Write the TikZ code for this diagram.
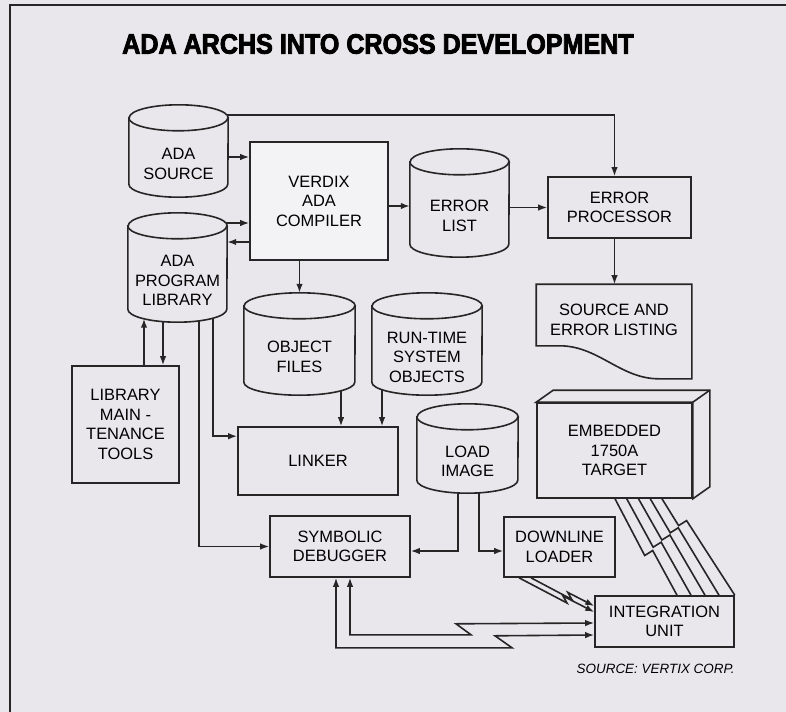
\documentclass[tikz,border=0pt]{standalone}
\usepackage{fontspec}
\setmainfont{Liberation Sans}
\newfontfamily\headfont{Liberation Sans}[UprightFont=* Bold,FakeBold=3,FakeStretch=0.9]
\usepackage{xcolor}
\definecolor{cPaper}{HTML}{E9E7EB}
\definecolor{cPaperLight}{HTML}{F3F2F4}
\definecolor{cInk}{HTML}{262626}
\usepackage{tikz}
\usetikzlibrary{positioning,arrows.meta,calc}
\pgfdeclarelayer{paper}
\pgfdeclarelayer{wires}
\pgfdeclarelayer{drums}
\pgfsetlayers{paper,wires,drums,main}
\tikzset{
  node-box/.style={draw=cInk,line width=1.6bp,fill=cPaper,align=center,
    inner sep=2bp,font=\fontsize{16.5}{19.5}\selectfont},
  node-drum/.style={rectangle,align=center,inner sep=0pt,
    font=\fontsize{16.5}{19.5}\selectfont},
  drum-line/.style={draw=cInk,line width=1.6bp,fill=cPaper},
  arrow/.style={-{Latex[length=9bp,width=6.5bp]},line width=1.6bp,draw=cInk},
  arrow-both/.style={{Latex[length=9bp,width=6.5bp]}-{Latex[length=9bp,width=6.5bp]},
    line width=1.6bp,draw=cInk},
  wire/.style={line width=1.6bp,draw=cInk},
}

\begin{document}
\begin{tikzpicture}[x=1bp,y=-1bp]
  \useasboundingbox (0,0) rectangle (786,712);
  \begin{pgfonlayer}{paper}
    \fill[cPaper] (0,0) rectangle (786,712);
    \draw[wire] (786,5) -- (10,5) -- (10,712);
  \end{pgfonlayer}

  \node[font=\headfont\fontsize{28}{32}\selectfont] (title) at (378,44) {ADA ARCHS INTO CROSS DEVELOPMENT};

  % stores (node = body below the top lid)
  \node[node-drum,minimum width=99bp,minimum height=66bp]  (src)  at (178.5,164)   {ADA\\SOURCE};
  \node[node-drum,minimum width=99bp,minimum height=83bp]  (lib)  at (177.5,280.5) {ADA\\PROGRAM\\LIBRARY};
  \node[node-drum,minimum width=99bp,minimum height=82bp]  (errl) at (459.5,216)   {ERROR\\LIST};
  \node[node-drum,minimum width=111bp,minimum height=76bp] (obj)  at (299.5,357)   {OBJECT\\FILES};
  \node[node-drum,minimum width=110bp,minimum height=76bp] (rts)  at (427,357)     {RUN-TIME\\SYSTEM\\OBJECTS};
  \node[node-drum,minimum width=101bp,minimum height=63bp] (img)  at (467.5,461.5) {LOAD\\IMAGE};
  \begin{pgfonlayer}{drums}
    \foreach \s/\r in {src/49.5bp,lib/49.5bp,errl/49.5bp,obj/55.5bp,rts/55bp,img/50.5bp}{
      \draw[drum-line] ([yshift=13bp]\s.north west) -- ([yshift=13bp]\s.south west)
        arc[start angle=180,end angle=360,x radius=\r,y radius=13bp]
        -- ([yshift=13bp]\s.north east)
        arc[start angle=0,end angle=180,x radius=\r,y radius=13bp] -- cycle;
      \draw[drum-line,fill=none] ([yshift=13bp]\s.north west)
        arc[start angle=180,end angle=360,x radius=\r,y radius=13bp];
    }
  \end{pgfonlayer}

  % tools and units
  \node[node-box,fill=cPaperLight,minimum width=138bp,minimum height=118bp] (cmp)   at (319,201)     {VERDIX\\ADA\\COMPILER};
  \node[node-box,minimum width=143bp,minimum height=61bp]                   (ep)    at (619.5,207.5) {ERROR\\PROCESSOR};
  \node[node-box,minimum width=107bp,minimum height=117bp]                  (tools) at (125.5,424.5) {LIBRARY\\MAIN -\\TENANCE\\TOOLS};
  \node[node-box,minimum width=160bp,minimum height=68bp]                   (lnk)   at (318,461)     {LINKER};
  \node[node-box,minimum width=140bp,minimum height=61bp]                   (dbg)   at (340,546.5)   {SYMBOLIC\\DEBUGGER};
  \node[node-box,minimum width=111bp,minimum height=60bp]                   (dl)    at (559.5,547)   {DOWNLINE\\LOADER};
  \node[node-box,minimum width=139bp,minimum height=51bp]                   (iu)    at (664.5,621.5) {INTEGRATION\\UNIT};
  \node[node-box,minimum width=155bp,minimum height=95bp]                   (tgt)   at (614.5,450.5) {EMBEDDED\\1750A\\TARGET};
  \node[node-box,draw=none,fill=none,minimum width=154bp,minimum height=70bp] (sel) at (614,320)     {SOURCE AND\\ERROR LISTING};

  % printout outline and target depth
  \begin{pgfonlayer}{drums}
    \draw[drum-line] (sel.north west) -- (sel.north east) -- ([yshift=-23bp]sel.south east)
      -- ([xshift=-33bp,yshift=-23bp]sel.south east)
      .. controls ([xshift=-71bp,yshift=-23bp]sel.south east) and ([xshift=63bp,yshift=9bp]sel.south west)
      .. ([xshift=25bp,yshift=10bp]sel.south west) -- ([yshift=10bp]sel.south west) -- cycle;
  \end{pgfonlayer}
  \draw[wire,fill=cPaper] (tgt.north west) -- ++(17,-12) -- ($(tgt.north east)+(17,-12)$)
    -- ($(tgt.south east)+(17,-12)$) -- (tgt.south east) -- (tgt.north east) -- cycle;
  \draw[wire] (tgt.north east) -- ++(17,-12);

  \node[anchor=east,inner sep=0pt,font=\itshape\fontsize{13.5}{16}\selectfont] (credit) at ([yshift=-21bp]iu.south east) {SOURCE: VERTIX CORP.};

  \begin{pgfonlayer}{wires}
    \draw[arrow] ([yshift=7bp]src.east) -- ([yshift=7bp]src.east -| cmp.west);
    \draw[arrow] ([yshift=49bp]src.center) -| ([xshift=-5bp]ep.north);
    \draw[arrow] ([yshift=57.5bp]lib.center) -- ([yshift=57.5bp]lib.center -| cmp.west);
    \draw[arrow] ([yshift=38.5bp]lib.center -| cmp.west) -- ([yshift=38.5bp]lib.east);
    \draw[arrow] ([yshift=-5bp]cmp.east) -- ([yshift=-5bp]cmp.east -| errl.west);
    \draw[arrow] (errl.east |- ep.west) -- (ep.west);
    \draw[arrow] (cmp.south -| obj.north) -- ([yshift=26bp]obj.north);
    \draw[arrow] ([xshift=-5bp]ep.south) -- ([xshift=-5bp]ep.south |- sel.north);
    \draw[arrow] ([xshift=41.5bp]obj.center) -- ([xshift=41.5bp]obj.center |- lnk.north);
    \draw[arrow] ([xshift=-45bp]rts.center) -- ([xshift=-45bp]rts.center |- lnk.north);
    \draw[arrow] ([xshift=-33.5bp]lib.south |- tools.north) -- ([xshift=-33.5bp,yshift=3.5bp]lib.south);
    \draw[arrow] ([xshift=-14.5bp]lib.center) -- ([xshift=-14.5bp]lib.center |- tools.north);
    \draw[arrow] ([xshift=35.5bp]lib.center) |- ([yshift=-10bp]lnk.north west);
    \draw[arrow] ([xshift=21.5bp]lib.center) |- (dbg.west);
    \draw[arrow] ([xshift=-9.5bp]img.center) |- ([yshift=-4.5bp]dbg.east);
    \draw[arrow] ([xshift=11.5bp]img.center) |- ([yshift=-4bp]dl.west);
    % lightning links
    \draw[arrow] ([xshift=-40.5bp]dl.south) -- ++(48,25.2) -- ++(-4,-7) -- ([yshift=9.5bp]iu.west);
    \draw[arrow] ([xshift=-28.5bp]dl.south) -- ++(40.8,21.6) -- ++(-4,-7) -- ([yshift=15.5bp]iu.west);
    \draw[arrow-both] ([xshift=10bp]dbg.south) -- ++(0,57) -- ++(121,0) -- ++(-15,-11) -- ([yshift=-1.5bp]iu.west);
    \draw[arrow-both] ([xshift=-4bp]dbg.south) -- ++(0,70) -- ++(176,0) -- ++(-17,-12) -- ([yshift=-13.5bp]iu.west);
    \draw[wire] ([xshift=0.5bp]tgt.south) -- ++(29.7,56.7) -- ++(8,-5) -- ([xshift=12.5bp]iu.north);
    \draw[wire] ([xshift=12.25bp]tgt.south) -- ++(26.4,48.4) -- ++(8,-5) -- ([xshift=26.5bp]iu.north);
    \draw[wire] ([xshift=24bp]tgt.south) -- ++(23.4,41.2) -- ++(8,-5) -- ([xshift=40.5bp]iu.north);
    \draw[wire] ([xshift=35.75bp]tgt.south) -- ++(20,34) -- ++(8,-5) -- ([xshift=54.5bp]iu.north);
    \draw[wire] ([xshift=47.5bp]tgt.south) -- ++(16.6,26.8) -- ++(8,-5) -- (iu.north east);
  \end{pgfonlayer}
\end{tikzpicture}
\end{document}
